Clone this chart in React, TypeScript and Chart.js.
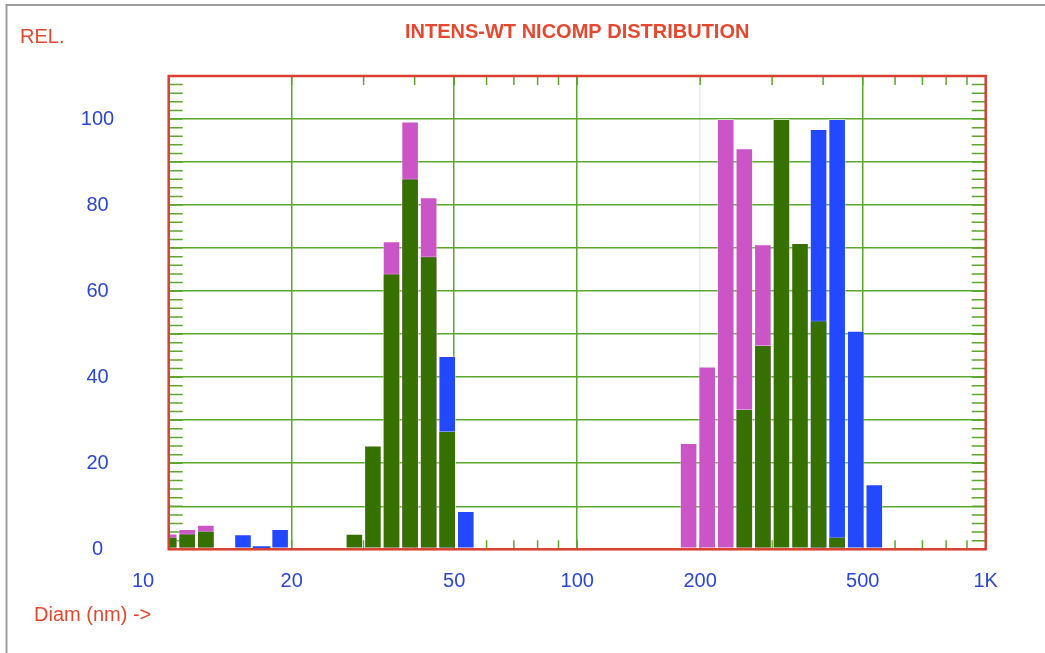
import { useEffect, useRef } from 'react';
import { Chart, registerables } from 'chart.js';

Chart.register(...registerables);

// Bin centres (nm), log-spaced at 22 bins per decade
const binDiameters = [
  10.0, 11.1, 12.33, 13.69, 15.2, 16.88, 18.74, 20.81, 23.1, 25.65,
  28.48, 31.62, 35.11, 38.99, 43.29, 48.06, 53.37, 59.26, 65.79, 73.05,
  81.11, 90.06, 100.0, 111.04, 123.28, 136.89, 151.99, 168.77, 187.38, 208.06,
  231.01, 256.5, 284.8, 316.23, 351.12, 389.86, 432.88, 480.64, 533.67,
];

// Relative intensity per bin (null = empty bin)
const greenValues = [
  2.9, 3.7, 4.3, null, null, null, null, null, null, null,
  3.6, 24.1, 64.1, 86.2, 68.1, 27.5, null, null, null, null,
  null, null, null, null, null, null, null, null, null, null,
  null, 32.6, 47.5, 100, 71.2, 53.2, 2.9, null, null,
];
const magentaValues = [
  3.7, 4.7, 5.7, null, null, null, null, null, null, null,
  null, null, 71.6, 99.4, 81.8, null, null, null, null, null,
  null, null, null, null, null, null, null, null, 24.7, 42.5,
  100, 93.2, 70.9, null, null, null, null, null, null,
];
const blueValues = [
  null, null, null, null, 3.5, 0.7, 4.7, null, null, null,
  null, null, null, null, null, 44.9, 8.9, null, null, null,
  null, null, null, null, null, null, null, null, null, null,
  null, null, null, null, null, 97.7, 100, 50.8, 15.1,
];

const xTickValues = [10, 20, 50, 100, 200, 500, 1000];
const xTickLabels = ['10', '20', '50', '100', '200', '500', '1K'];
const xGridValues = [20, 50, 100, 500];
const xFaintGridValues = [200];
const xMinorTicks = [20, 30, 40, 50, 60, 70, 80, 90, 100, 200, 300, 400, 500, 600, 700, 800, 900];
const yMax = 110;
const yLabelStep = 20;
const yGridStep = 10;
const yMinorStep = 2;

const titleText = 'INTENS-WT NICOMP DISTRIBUTION';
const yAxisTitle = 'REL.';
const xAxisTitle = 'Diam (nm) ->';

const GREEN = '#367100';
const MAGENTA = '#cb55c6';
const BLUE = '#2249ff';
const GRID = '#5aa82c';
const GRID_FAINT = '#e6eee3';
const RED = '#e5482f';
const BORDER_RED = '#d9402f';
const LABEL_BLUE = '#2b46d6';
const FONT = '"Liberation Sans", Arial, Helvetica, sans-serif';

const toPoints = (values: (number | null)[]) =>
  binDiameters
    .map((x, i) => ({ x, y: values[i] }))
    .filter((p) => p.y !== null);

const chromePlugin = {
  id: 'nicompChrome',
  beforeDraw(chart: any) {
    const { ctx, width, height } = chart;
    ctx.save();
    ctx.strokeStyle = '#9d9d9d';
    ctx.lineWidth = 2;
    ctx.beginPath();
    ctx.moveTo(6.5, height);
    ctx.lineTo(6.5, 5);
    ctx.lineTo(width, 5);
    ctx.stroke();
    ctx.restore();
  },
  beforeDatasetsDraw(chart: any) {
    const { ctx, chartArea: a, scales } = chart;
    ctx.save();
    ctx.strokeStyle = GRID;
    ctx.lineWidth = 1.5;
    ctx.beginPath();
    for (const v of xMinorTicks) {
      const x = scales.x.getPixelForValue(v);
      ctx.moveTo(x, a.top);
      ctx.lineTo(x, a.top + 9);
      ctx.moveTo(x, a.bottom);
      ctx.lineTo(x, a.bottom - 9);
    }
    for (let v = yMinorStep; v < yMax; v += yMinorStep) {
      const y = scales.y.getPixelForValue(v);
      ctx.moveTo(a.left, y);
      ctx.lineTo(a.left + 14, y);
      ctx.moveTo(a.right, y);
      ctx.lineTo(a.right - 14, y);
    }
    ctx.stroke();
    ctx.restore();
  },
  afterDatasetsDraw(chart: any) {
    const { ctx, chartArea: a } = chart;
    ctx.save();
    ctx.strokeStyle = BORDER_RED;
    ctx.lineWidth = 2.5;
    ctx.strokeRect(a.left, a.top, a.right - a.left, a.bottom - a.top);
    ctx.restore();
  },
  afterDraw(chart: any) {
    const { ctx, chartArea: a, scales } = chart;
    ctx.save();
    ctx.fillStyle = RED;
    ctx.textBaseline = 'alphabetic';
    ctx.font = `20px ${FONT}`;
    ctx.textAlign = 'left';
    ctx.fillText(yAxisTitle, 20, 43);
    ctx.fillText(xAxisTitle, 34, 621);
    ctx.font = `bold 20px ${FONT}`;
    ctx.textAlign = 'center';
    ctx.fillText(titleText, (a.left + a.right) / 2, 37.5);

    ctx.fillStyle = LABEL_BLUE;
    ctx.font = `20px ${FONT}`;
    xTickValues.forEach((v, i) => {
      const x = scales.x.getPixelForValue(v);
      if (i === 0) {
        ctx.textAlign = 'right';
        ctx.fillText(xTickLabels[i], x - 14.5, 586.5);
      } else {
        ctx.textAlign = 'center';
        ctx.fillText(xTickLabels[i], x, 586.5);
      }
    });
    ctx.restore();
  },
};

export default function App() {
  const canvasRef = useRef<HTMLCanvasElement | null>(null);

  useEffect(() => {
    if (!canvasRef.current) return;
    const barStyle = {
      grouped: false,
      categoryPercentage: 1,
      barPercentage: 0.95,
      // thin light outline, dropped on very short bars so they stay visible
      borderWidth: (ctx: any) => (ctx.raw && ctx.raw.y < 2 ? 0 : 1),
      borderColor: 'rgba(255,255,255,0.4)',
      borderSkipped: false,
    };
    const chart = new Chart(canvasRef.current, {
      type: 'bar',
      data: {
        datasets: [
          { label: 'Population 2', data: toPoints(greenValues), backgroundColor: GREEN, ...barStyle },
          { label: 'Population 1', data: toPoints(magentaValues), backgroundColor: MAGENTA, ...barStyle },
          { label: 'Population 3', data: toPoints(blueValues), backgroundColor: BLUE, ...barStyle },
        ] as any,
      },
      options: {
        animation: false,
        responsive: true,
        maintainAspectRatio: false,
        layout: { padding: { left: 0, top: 76, right: 59.3, bottom: 0 } },
        plugins: {
          legend: { display: false },
          tooltip: { enabled: false },
          title: { display: false },
        },
        scales: {
          x: {
            type: 'logarithmic',
            min: 10,
            max: 1000,
            offset: false,
            border: { display: false },
            afterBuildTicks: (scale: any) => {
              scale.ticks = xTickValues.map((value) => ({ value }));
            },
            afterFit: (scale: any) => {
              scale.height = 103.7;
            },
            grid: {
              offset: false,
              drawTicks: false,
              lineWidth: 1.5,
              color: (ctx: any) => {
                const v = ctx.tick && ctx.tick.value;
                if (xGridValues.includes(v)) return GRID;
                if (xFaintGridValues.includes(v)) return GRID_FAINT;
                return 'rgba(0,0,0,0)';
              },
            },
            ticks: { display: false, autoSkip: false },
          },
          y: {
            type: 'linear',
            min: 0,
            max: yMax,
            border: { display: false },
            afterFit: (scale: any) => {
              scale.width = 168.7;
            },
            grid: {
              drawTicks: false,
              lineWidth: 1.5,
              color: (ctx: any) => (ctx.tick && ctx.tick.value > 0 && ctx.tick.value < yMax ? GRID : 'rgba(0,0,0,0)'),
            },
            ticks: {
              stepSize: yGridStep,
              autoSkip: false,
              crossAlign: 'center',
              padding: 54.5,
              color: LABEL_BLUE,
              font: { family: FONT, size: 20 },
              callback: (v: any) => (Number(v) % yLabelStep === 0 ? String(v) : ''),
            },
          },
        },
      },
      plugins: [chromePlugin],
    } as any);
    return () => chart.destroy();
  }, []);

  return (
    <div style={{ position: 'absolute', left: 0, top: 0, width: 1045, height: 653, background: '#fff' }}>
      <canvas ref={canvasRef} />
    </div>
  );
}
